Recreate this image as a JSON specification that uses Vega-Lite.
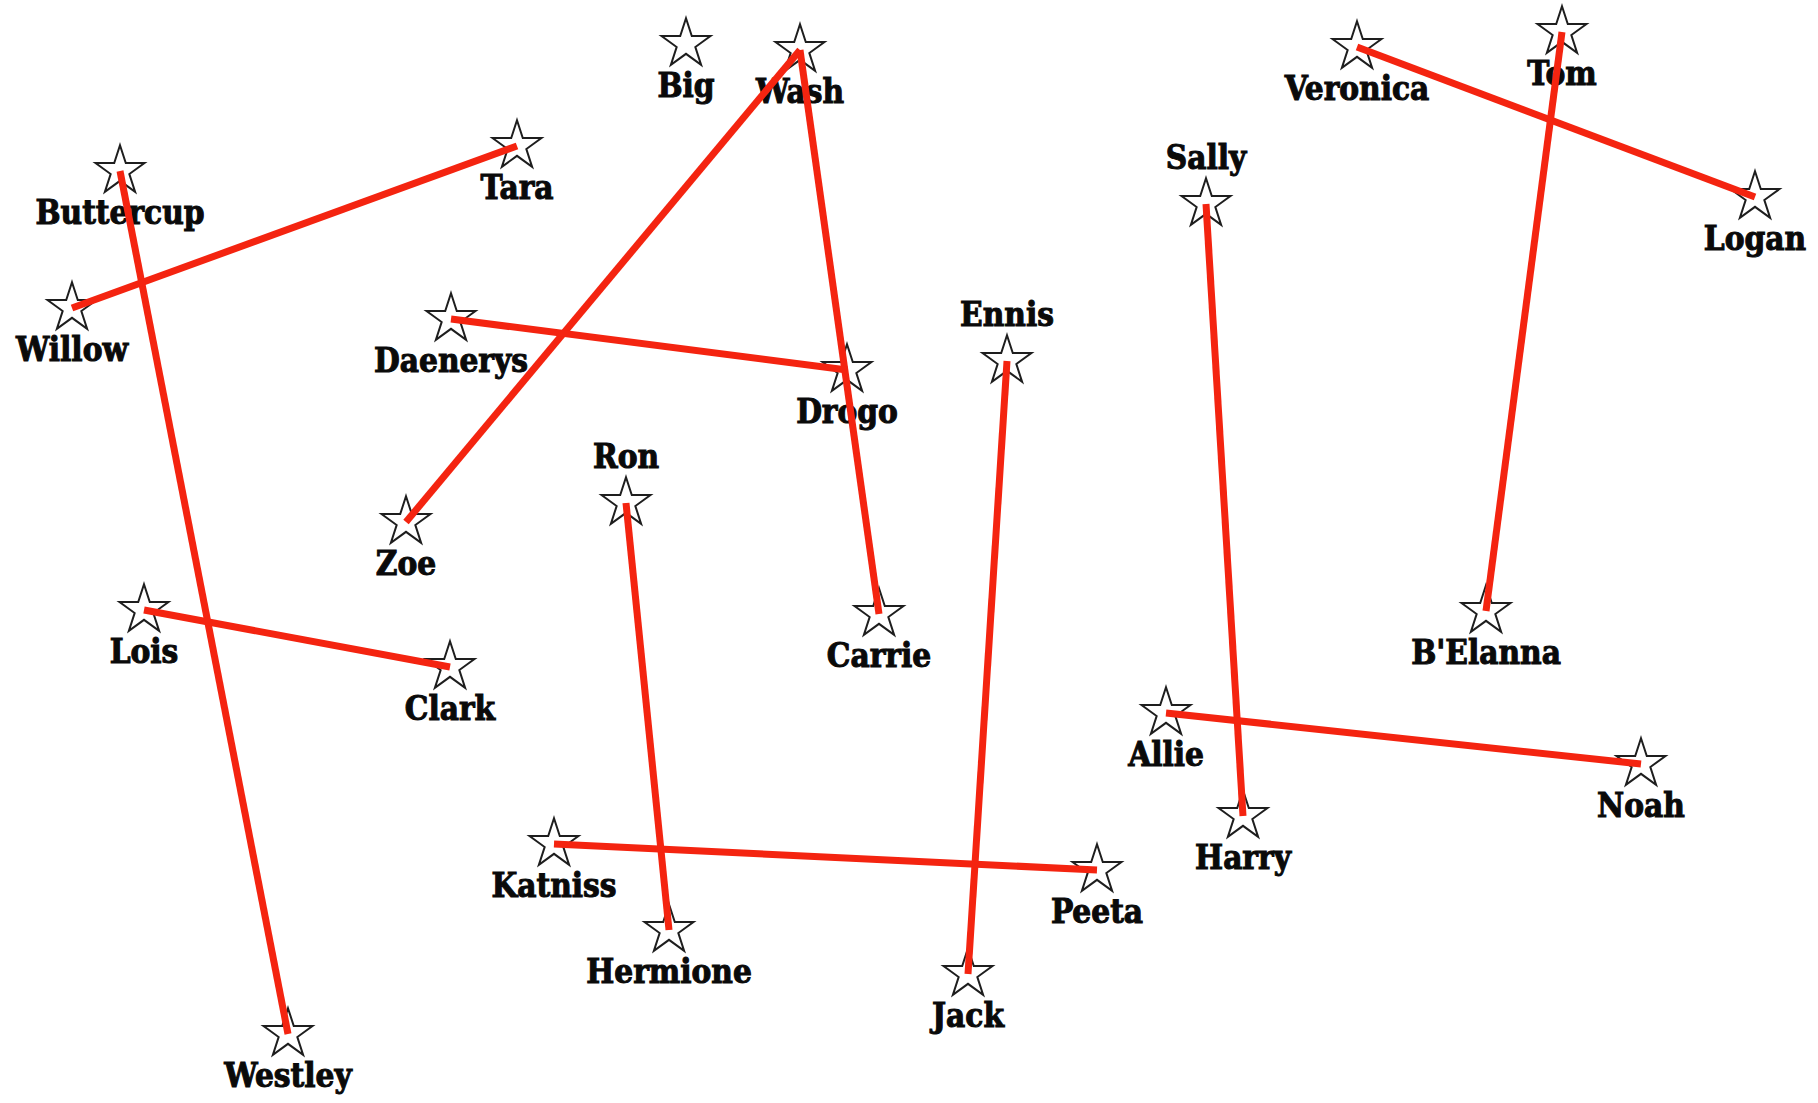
{
  "$schema": "https://vega.github.io/schema/vega-lite/v6.json",
  "width": 1818,
  "height": 1103,
  "autosize": {"type": "fit", "contains": "padding"},
  "padding": 0,
  "background": "white",
  "config": {"view": {"stroke": null}},
  "datasets": {
    "stars": [
      {"name": "Big", "x": 686, "y": 44},
      {"name": "Wash", "x": 800, "y": 50},
      {"name": "Veronica", "x": 1357, "y": 47},
      {"name": "Tom", "x": 1562, "y": 32},
      {"name": "Logan", "x": 1755, "y": 197},
      {"name": "Buttercup", "x": 120, "y": 171},
      {"name": "Willow", "x": 72, "y": 308},
      {"name": "Tara", "x": 517, "y": 146},
      {"name": "Sally", "x": 1206, "y": 204},
      {"name": "Daenerys", "x": 451, "y": 319},
      {"name": "Ennis", "x": 1007, "y": 361},
      {"name": "Drogo", "x": 847, "y": 370},
      {"name": "Ron", "x": 626, "y": 503},
      {"name": "Zoe", "x": 406, "y": 522},
      {"name": "Lois", "x": 144, "y": 610},
      {"name": "Carrie", "x": 879, "y": 614},
      {"name": "B'Elanna", "x": 1486, "y": 611},
      {"name": "Clark", "x": 450, "y": 667},
      {"name": "Allie", "x": 1166, "y": 713},
      {"name": "Noah", "x": 1641, "y": 764},
      {"name": "Harry", "x": 1243, "y": 816},
      {"name": "Katniss", "x": 554, "y": 844},
      {"name": "Peeta", "x": 1097, "y": 870},
      {"name": "Hermione", "x": 669, "y": 930},
      {"name": "Jack", "x": 968, "y": 974},
      {"name": "Westley", "x": 288, "y": 1034}
    ],
    "links": [
      {"couple": "Buttercup & Westley", "who": "Buttercup"},
      {"couple": "Buttercup & Westley", "who": "Westley"},
      {"couple": "Willow & Tara", "who": "Willow"},
      {"couple": "Willow & Tara", "who": "Tara"},
      {"couple": "Zoe & Wash", "who": "Zoe"},
      {"couple": "Zoe & Wash", "who": "Wash"},
      {"couple": "Wash & Carrie", "who": "Wash"},
      {"couple": "Wash & Carrie", "who": "Carrie"},
      {"couple": "Daenerys & Drogo", "who": "Daenerys"},
      {"couple": "Daenerys & Drogo", "who": "Drogo"},
      {"couple": "Lois & Clark", "who": "Lois"},
      {"couple": "Lois & Clark", "who": "Clark"},
      {"couple": "Ron & Hermione", "who": "Ron"},
      {"couple": "Ron & Hermione", "who": "Hermione"},
      {"couple": "Katniss & Peeta", "who": "Katniss"},
      {"couple": "Katniss & Peeta", "who": "Peeta"},
      {"couple": "Ennis & Jack", "who": "Ennis"},
      {"couple": "Ennis & Jack", "who": "Jack"},
      {"couple": "Sally & Harry", "who": "Sally"},
      {"couple": "Sally & Harry", "who": "Harry"},
      {"couple": "Allie & Noah", "who": "Allie"},
      {"couple": "Allie & Noah", "who": "Noah"},
      {"couple": "Veronica & Logan", "who": "Veronica"},
      {"couple": "Veronica & Logan", "who": "Logan"},
      {"couple": "Tom & B'Elanna", "who": "Tom"},
      {"couple": "Tom & B'Elanna", "who": "B'Elanna"}
    ]
  },
  "encoding": {
    "x": {"field": "x", "type": "quantitative", "scale": {"domain": [0, 1818], "nice": false, "zero": false}, "axis": null},
    "y": {"field": "y", "type": "quantitative", "scale": {"domain": [1103, 0], "nice": false, "zero": false}, "axis": null}
  },
  "layer": [
    {
      "data": {"name": "stars"},
      "mark": {
        "type": "point",
        "shape": "M0,-1L0.2245,-0.309L0.951,-0.309L0.363,0.118L0.588,0.809L0,0.382L-0.588,0.809L-0.363,0.118L-0.951,-0.309L-0.2245,-0.309Z",
        "size": 2650,
        "filled": true,
        "fill": "white",
        "stroke": "#1e1e1e",
        "strokeWidth": 2,
        "opacity": 1
      }
    },
    {
      "data": {"name": "stars"},
      "transform": [{"filter": {"not": {"field": "name", "oneOf": ["Sally", "Ennis", "Ron"]}}}],
      "mark": {"type": "text", "dy": 43, "baseline": "middle", "align": "center", "font": "DejaVu Serif Condensed", "fontWeight": "bold", "fontSize": 33, "fill": "#0a0a0a", "stroke": "#0a0a0a", "strokeWidth": 1},
      "encoding": {"text": {"field": "name"}}
    },
    {
      "data": {"name": "stars"},
      "transform": [{"filter": {"field": "name", "oneOf": ["Sally", "Ennis", "Ron"]}}],
      "mark": {"type": "text", "dy": -45, "baseline": "middle", "align": "center", "font": "DejaVu Serif Condensed", "fontWeight": "bold", "fontSize": 33, "fill": "#0a0a0a", "stroke": "#0a0a0a", "strokeWidth": 1},
      "encoding": {"text": {"field": "name"}}
    },
    {
      "data": {"name": "links"},
      "transform": [{"lookup": "who", "from": {"data": {"name": "stars"}, "key": "name", "fields": ["x", "y"]}}],
      "mark": {"type": "line", "color": "#f42410", "strokeWidth": 7, "strokeCap": "butt"},
      "encoding": {"detail": {"field": "couple"}}
    }
  ]
}
